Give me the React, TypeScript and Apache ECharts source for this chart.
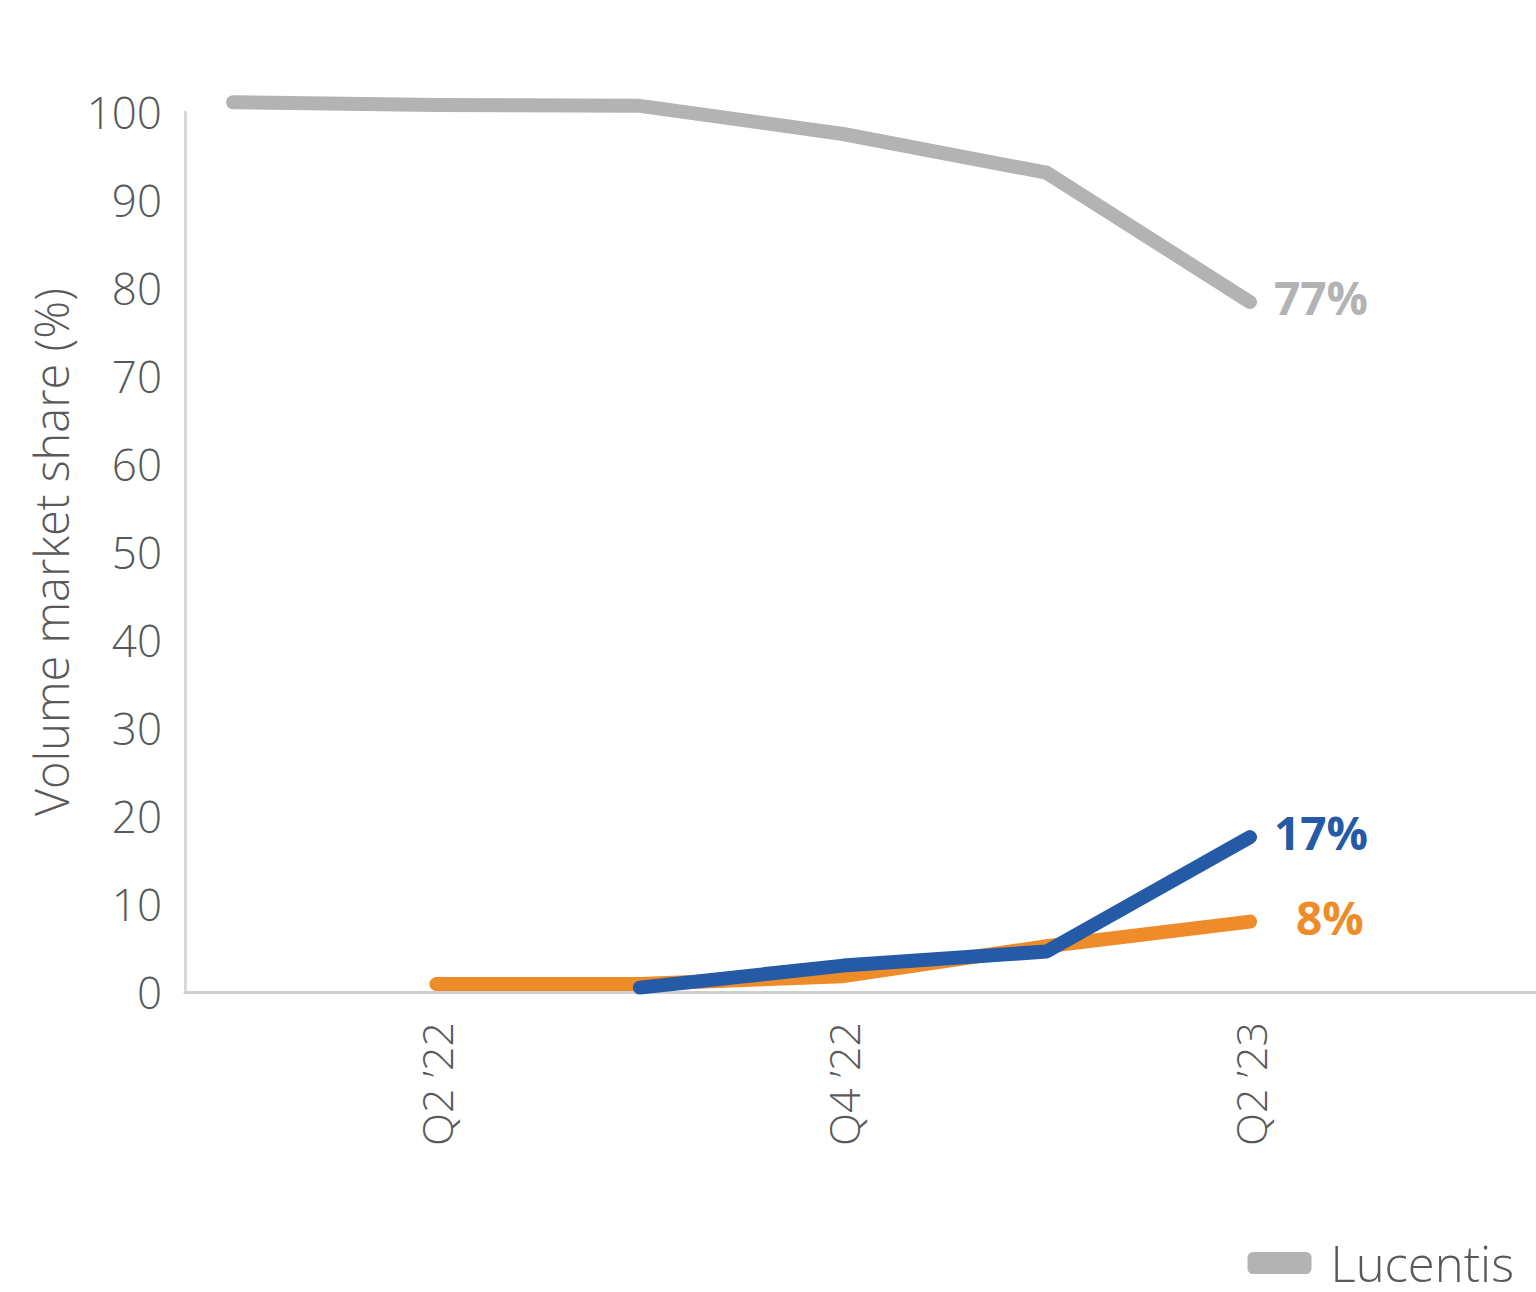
import React, { useEffect, useRef } from "react";
import * as echarts from "echarts";

const quarters = ["Q1 ’22", "Q2 ’22", "Q3 ’22", "Q4 ’22", "Q1 ’23", "Q2 ’23"];
const lucentis = [101.1, 100.8, 100.7, 97.5, 93.1, 78.4];
const orangeSeries = [null, 0.9, 0.9, 1.8, 5.2, 8.0];
const blueSeries = [null, null, 0.5, 3.0, 4.6, 17.6];
const endLabels = ["77%", "8%", "17%"];
const yTicks = [0, 10, 20, 30, 40, 50, 60, 70, 80, 90, 100];

const FONT = "'Open Sans', 'Noto Sans', sans-serif";
const GRAY = "#b3b3b3";
const ORANGE = "#ef8c2a";
const BLUE = "#245aa6";
const TEXT = "#595959";

export default function App() {
  const ref = useRef<HTMLDivElement>(null);
  useEffect(() => {
    document.body.style.margin = "0";
    const chart = echarts.init(ref.current!, undefined, { renderer: "svg" });
    const line = (color: string) => ({
      color,
      width: 14,
      cap: "round",
      join: "round",
    });
    const endLabel = (text: string, color: string, distance: number) => ({
      show: true,
      formatter: text,
      distance,
      offset: [0, -5],
      color,
      fontFamily: FONT,
      fontWeight: "bold",
      fontSize: 46,
    });
    chart.setOption({
      animation: false,
      backgroundColor: "#ffffff",
      textStyle: { fontFamily: FONT },
      grid: [
        { left: 233, right: 286, top: 112, bottom: 300 },
        { left: 185, right: 0, top: 112, bottom: 300 },
      ],
      xAxis: [
        {
          gridIndex: 0,
          type: "category",
          data: quarters,
          boundaryGap: false,
          axisLine: { show: false },
          axisTick: { show: false },
          axisLabel: {
            rotate: 90,
            margin: 30,
            fontSize: 43,
            fontWeight: 300,
            color: TEXT,
            fontFamily: FONT,
            interval: (i: number) => i % 2 === 1,
          },
          splitLine: { show: false },
        },
        {
          gridIndex: 1,
          type: "value",
          min: 0,
          max: 1,
          axisLine: { show: true, onZero: false, lineStyle: { color: "#d0d0d0", width: 3 } },
          axisTick: { show: false },
          axisLabel: { show: false },
          splitLine: { show: false },
        },
      ],
      yAxis: [
        {
          gridIndex: 0,
          type: "value",
          min: 0,
          max: 100,
          show: false,
          splitLine: { show: false },
        },
        {
          gridIndex: 1,
          type: "value",
          min: 0,
          max: 100,
          interval: 10,
          name: "Volume market share (%)",
          nameLocation: "middle",
          nameGap: 111,
          nameTextStyle: { fontSize: 47, color: TEXT, fontFamily: FONT, fontWeight: 300 },
          axisLine: { show: true, onZero: false, lineStyle: { color: "#d9d9d9", width: 3 } },
          axisTick: { show: false },
          axisLabel: {
            margin: 23,
            fontSize: 44,
            fontWeight: 300,
            color: TEXT,
            fontFamily: FONT,
            formatter: (v: number) => (yTicks.includes(v) ? String(v) : ""),
          },
          splitLine: { show: false },
        },
      ],
      legend: {
        data: ["Lucentis"],
        right: 22,
        top: 1238,
        padding: 0,
        icon: "roundRect",
        itemWidth: 64,
        itemHeight: 22,
        textStyle: {
          fontSize: 49,
          lineHeight: 50,
          color: TEXT,
          fontFamily: FONT,
          fontWeight: 300,
          padding: [0, 0, 0, 14],
        },
      },
      series: [
        {
          name: "Lucentis",
          type: "line",
          xAxisIndex: 0,
          yAxisIndex: 0,
          data: lucentis,
          clip: false,
          showSymbol: false,
          symbol: "none",
          itemStyle: { color: GRAY },
          lineStyle: line(GRAY),
          endLabel: endLabel(endLabels[0], GRAY, 24),
          z: 2,
        },
        {
          name: "Biosimilar",
          type: "line",
          xAxisIndex: 0,
          yAxisIndex: 0,
          data: orangeSeries,
          clip: false,
          showSymbol: false,
          symbol: "none",
          itemStyle: { color: ORANGE },
          lineStyle: line(ORANGE),
          endLabel: endLabel(endLabels[1], ORANGE, 46),
          z: 3,
        },
        {
          name: "Vabysmo",
          type: "line",
          xAxisIndex: 0,
          yAxisIndex: 0,
          data: blueSeries,
          clip: false,
          showSymbol: false,
          symbol: "none",
          itemStyle: { color: BLUE },
          lineStyle: line(BLUE),
          endLabel: endLabel(endLabels[2], BLUE, 24),
          z: 4,
        },
      ],
    });
    return () => chart.dispose();
  }, []);
  return <div ref={ref} style={{ width: 1536, height: 1292 }} />;
}
